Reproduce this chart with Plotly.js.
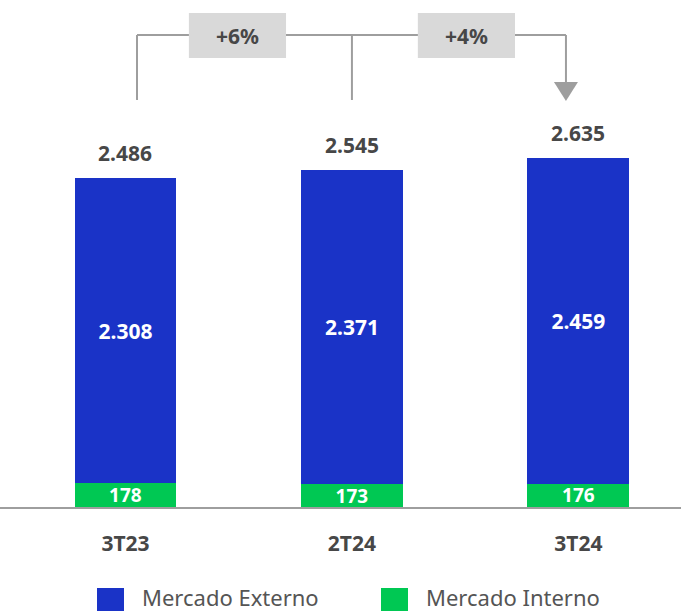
<!DOCTYPE html>
<html>
<head>
<meta charset="utf-8">
<script src="https://cdn.plot.ly/plotly-3.0.1.min.js"></script>
<style>
  html, body { margin: 0; padding: 0; background: #fff; }
  #graph { width: 681px; height: 611px; }
</style>
</head>
<body>
<div id="graph"></div>
<script>
const trimestres = ['3T23', '2T24', '3T24']
const mercadoInterno = [178, 173, 176]
const mercadoExterno = [2308, 2371, 2459]
const totais = [2486, 2545, 2635]
const variacoes = ['+6%', '+4%']

const fmt = v => String(v).replace(/\B(?=(\d{3})+(?!\d))/g, '.')

const fonte = 'Noto Sans, Open Sans, sans-serif'
const cinza = '#9e9e9e'
const texto = '#474747'

const graphData = [
    {
        x: trimestres,
        y: mercadoInterno,
        name: 'Mercado Interno',
        type: 'bar',
        marker: { color: '#00c853' },
        text: mercadoInterno.map(fmt),
        textposition: 'inside',
        insidetextanchor: 'middle',
        constraintext: 'none',
        textfont: { color: '#ffffff', size: 19, family: fonte, weight: 'bold' },
        hoverinfo: 'none',
    },
    {
        x: trimestres,
        y: mercadoExterno,
        name: 'Mercado Externo',
        type: 'bar',
        marker: { color: '#1a33c7' },
        text: mercadoExterno.map(fmt),
        textposition: 'inside',
        insidetextanchor: 'middle',
        constraintext: 'none',
        textfont: { color: '#ffffff', size: 21, family: fonte, weight: 'bold' },
        hoverinfo: 'none',
    }
]

// pixel row -> y value (baseline at 507 px, 0.1323 px per unit)
const py = px => (507 - px) / 0.1323
// pixel row -> paper y (plot area 0..507 px)
const pp = px => (507 - px) / 507

// total labels on top of each bar
const annotations = trimestres.map((t, i) => ({
    x: t, y: totais[i], xref: 'x', yref: 'y',
    text: '<b>' + fmt(totais[i]) + '</b>',
    showarrow: false, yanchor: 'bottom', yshift: 9,
    font: { size: 21, color: texto, family: fonte }
}))

// bracket with growth boxes
const shapes = [
    { type: 'line', x0: 0.051, x1: 0.051, y0: py(100), y1: py(35), line: { color: cinza, width: 2 } },
    { type: 'line', x0: 1, x1: 1, y0: py(100), y1: py(35), line: { color: cinza, width: 2 } },
    { type: 'line', x0: 1.945, x1: 1.945, y0: py(83), y1: py(35), line: { color: cinza, width: 2 } },
    { type: 'line', x0: 0.051, x1: 1.945, y0: py(35), y1: py(35), line: { color: cinza, width: 2 } },
    { type: 'path', path: `M 1.892 ${py(82)} L 1.998 ${py(82)} L 1.945 ${py(101)} Z`, fillcolor: cinza, line: { width: 0 } },
    { type: 'rect', x0: 0.28, x1: 0.709, y0: py(58), y1: py(13), fillcolor: '#d9d9d9', line: { width: 0 } },
    { type: 'rect', x0: 1.291, x1: 1.72, y0: py(58), y1: py(13), fillcolor: '#d9d9d9', line: { width: 0 } },
].map(s => Object.assign({ xref: 'x', yref: 'y', layer: 'above' }, s))

// legend squares, drawn by hand to get the large swatches
shapes.push(
    { type: 'rect', xref: 'paper', yref: 'paper', x0: 97 / 681, x1: 124 / 681, y0: pp(615), y1: pp(588), fillcolor: '#1a33c7', line: { width: 0 } },
    { type: 'rect', xref: 'paper', yref: 'paper', x0: 381 / 681, x1: 408 / 681, y0: pp(615), y1: pp(588), fillcolor: '#00c853', line: { width: 0 } }
)

annotations.push(
    { x: 0.495, y: py(36), xref: 'x', yref: 'y', text: '<b>' + variacoes[0] + '</b>', showarrow: false, font: { size: 21, color: texto, family: fonte } },
    { x: 1.505, y: py(36), xref: 'x', yref: 'y', text: '<b>' + variacoes[1] + '</b>', showarrow: false, font: { size: 21, color: texto, family: fonte } },
    { x: 140 / 681, y: pp(597), xref: 'paper', yref: 'paper', xanchor: 'left', yanchor: 'middle', text: 'Mercado Externo', showarrow: false, font: { size: 22, color: '#555555', family: fonte } },
    { x: 424 / 681, y: pp(597), xref: 'paper', yref: 'paper', xanchor: 'left', yanchor: 'middle', text: 'Mercado Interno', showarrow: false, font: { size: 22, color: '#555555', family: fonte } }
)

const layout = {
    width: 681,
    height: 611,
    margin: { l: 0, r: 0, t: 0, b: 104 },
    paper_bgcolor: '#ffffff',
    plot_bgcolor: '#ffffff',
    barmode: 'stack',
    bargap: 0.55,
    showlegend: false,
    xaxis: {
        range: [-0.554, 2.453],
        showline: true,
        linecolor: cinza,
        linewidth: 2,
        ticks: '',
        ticklabelstandoff: 17,
        tickfont: { size: 21, color: texto, family: fonte, weight: 'bold' },
        fixedrange: true,
    },
    yaxis: {
        range: [0, 3832],
        visible: false,
        showgrid: false,
        zeroline: false,
        fixedrange: true,
    },
    shapes: shapes,
    annotations: annotations,
}

Plotly.newPlot('graph', graphData, layout, { displayModeBar: false, staticPlot: true })
</script>
</body>
</html>
